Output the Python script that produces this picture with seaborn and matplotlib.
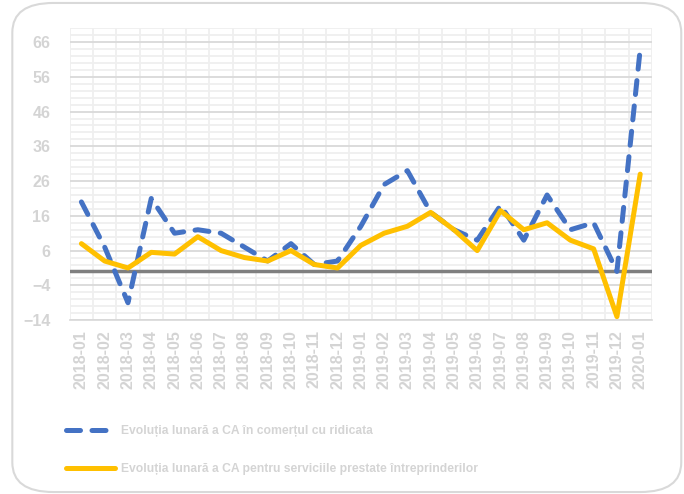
import numpy as np
import pandas as pd
import matplotlib
matplotlib.use("Agg")
import matplotlib.pyplot as plt
import seaborn as sns
from matplotlib.ticker import MultipleLocator, FixedLocator
from matplotlib.patches import FancyBboxPatch

# date lunare
luni = ['2018-01', '2018-02', '2018-03', '2018-04', '2018-05', '2018-06', '2018-07',
        '2018-08', '2018-09', '2018-10', '2018-11', '2018-12', '2019-01', '2019-02',
        '2019-03', '2019-04', '2019-05', '2019-06', '2019-07', '2019-08', '2019-09',
        '2019-10', '2019-11', '2019-12', '2020-01']
comert_ridicata = [20, 7, -9, 21, 11, 12, 11, 7, 3, 8, 2, 3, 13, 25,
                   29, 17, 12, 9, 19, 9, 22, 12, 14, 0, 64]
servicii_intreprinderi = [8, 3, 1, 5.5, 5, 10, 6, 4, 3, 6, 2, 1, 7.5, 11,
                          13, 17, 12, 6, 17.5, 12, 14, 9, 6.5, -13, 28]
serie1 = 'Evoluția lunară a CA în comerțul cu ridicata'
serie2 = 'Evoluția lunară a CA pentru serviciile prestate întreprinderilor'
y_ticks = [-14, -4, 6, 16, 26, 36, 46, 56, 66]

df = pd.DataFrame({'luna': luni * 2,
                   'valoare': comert_ridicata + servicii_intreprinderi,
                   'serie': [serie1] * len(luni) + [serie2] * len(luni)})

sns.set_theme(style='white')
plt.rcParams['font.family'] = ['Liberation Sans', 'DejaVu Sans']
plt.rcParams['font.weight'] = 'bold'
gri_text = '#d4d4d4'

fig = plt.figure(figsize=(6.84, 4.94), dpi=100)
ax = fig.add_axes([0.102, 0.352, 0.851, 0.591])

# chenar rotunjit
fig.patches.append(FancyBboxPatch((0.018, 0.004), 0.978, 0.99,
                                  boxstyle='round,pad=0,rounding_size=0.06',
                                  transform=fig.transFigure, fill=False,
                                  edgecolor='#d9d9d9', linewidth=1.5))

ax.set_xlim(-0.5, len(luni) - 0.5)
ax.set_ylim(-14, 70)
ax.yaxis.set_major_locator(FixedLocator(y_ticks))
ax.yaxis.set_minor_locator(MultipleLocator(2))
ax.xaxis.set_minor_locator(MultipleLocator(0.5))
ax.grid(which='minor', color='#efefef', linewidth=1.3)
ax.grid(which='major', axis='y', color='#d9d9d9', linewidth=1.3)
ax.set_axisbelow(True)
ax.axhline(0, color='#7f7f7f', linewidth=2.5, zorder=2)

sns.lineplot(data=df, x='luna', y='valoare', hue='serie', style='serie',
             palette=['#4472C4', '#FFC000'], dashes=[(2.8, 2.3), ''],
             linewidth=3.6, sort=False, ax=ax, legend=True, zorder=3)
for ln in ax.get_lines()[1:3]:
    ln.set_dash_capstyle('round')
    ln.set_solid_capstyle('round')
    ln.set_solid_joinstyle('round')
    ln.set_dash_joinstyle('round')

h, l = ax.get_legend_handles_labels()
ax.get_legend().remove()
for hh in h:
    hh.set_dash_capstyle('round')
    hh.set_solid_capstyle('round')
    hh.set_linewidth(3.6)
leg = fig.legend(h, l, loc='upper left', bbox_to_anchor=(0.08, 0.162),
                 frameon=False, handlelength=4.1, handletextpad=0.5,
                 labelspacing=2.15, prop={'weight': 'bold', 'size': 8.7})
for t in leg.get_texts():
    t.set_color(gri_text)

ax.set_xlabel('')
ax.set_ylabel('')
ax.tick_params(axis='x', which='both', length=0, pad=7, rotation=90,
               labelcolor=gri_text, labelsize=11.5)
ax.tick_params(axis='y', which='both', length=0, pad=14,
               labelcolor=gri_text, labelsize=11.5)
for t in ax.get_xticklabels() + ax.get_yticklabels():
    t.set_fontweight('bold')
for s in ['top', 'right', 'left']:
    ax.spines[s].set_visible(False)
ax.spines['bottom'].set_color('#d9d9d9')

fig.savefig('out.png', dpi=100)
